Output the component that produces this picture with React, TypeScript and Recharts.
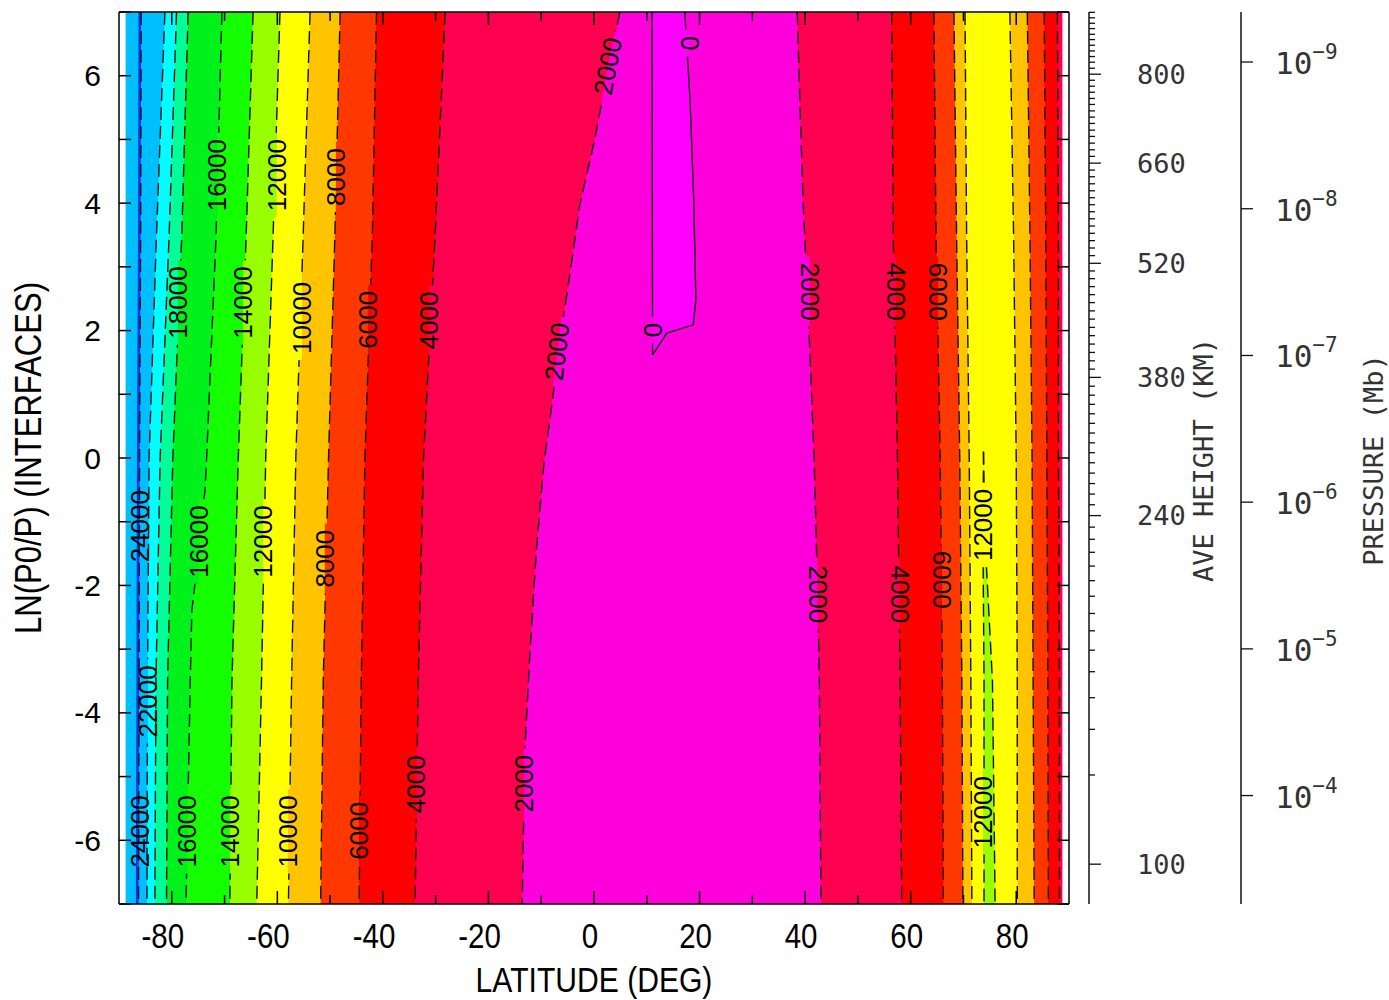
import React from 'react'
import { ComposedChart, Area, Line, XAxis, YAxis, ReferenceDot } from 'recharts'

// ─── Data: contour band boundaries (latitude, deg) at ln(P0/P) levels ──────

const Z5 = [7, 3.5, 0, -3.5, -7]
const Z_EDGE = [7, -7]

const EDGE_W = [-88.75, -88.75]
const EDGE_E = [88.75, 88.75]

// southern (left) side, values increase toward the pole
const RIDGE_W = [-86.3, -86.4, -86.6, -86.7, -86.8]
const RIDGE_E = [-85.8, -85.9, -86.1, -86.2, -86.3]
const C22 = [-81.3, -82.9, -84.3, -84.6, -84.7]
const C20 = [-79.1, -80.5, -82.2, -83.0, -83.2]
const C18 = [-76.9, -78.1, -79.8, -80.8, -81.0]
const C16_Z = [7, 3.5, 0, -0.5, -1.9, -2.4, -3.5, -7]
const C16 = [-70.5, -71.6, -73.4, -73.7, -75.5, -76.2, -76.5, -77.3]
const C14 = [-64.6, -65.9, -67.4, -68.6, -69.0]
const C12 = [-59.5, -60.8, -62.2, -63.0, -63.9]
const C10 = [-53.8, -55.1, -56.5, -57.3, -57.9]
const C8 = [-48.1, -49.1, -50.3, -51.3, -51.8]
const C6 = [-41.2, -42.0, -43.4, -44.1, -44.5]
const C4 = [-28.2, -30.1, -32.3, -33.3, -33.9]
const C2W_Z = [7, 5.69, 5.02, 3.97, 2.92, 1.88, 0.83, -0.1, -1.43, -3.0, -4.57, -7]
const C2W = [4.9, 1.7, 0.2, -2.7, -4.5, -6.4, -8.0, -9.5, -10.9, -12.1, -13.1, -13.6]

// closed zero contour near 15N
const C0W_Z = [7, 1.62]
const C0W = [11.0, 11.1]
const C0E_Z = [7, 5.62, 4.05, 2.48, 2.09, 1.96, 1.62]
const C0E = [17.2, 18.2, 18.9, 19.3, 18.8, 13.8, 11.1]
const C0_TAIL_Z = [-7]
const C0_TAIL = [11.1]

// northern (right) side
const C2E_Z = [7, 5.62, 4.05, 2.48, 0, -2.2, -3.5, -7]
const C2E = [38.5, 39.0, 39.6, 40.5, 41.7, 42.4, 42.7, 43.0]
const C4E = [56.4, 56.7, 57.5, 58.0, 58.3]
const C6E = [64.4, 64.8, 65.6, 66.0, 66.2]
const C8E = [68.2, 68.7, 69.3, 69.7, 69.9]
const C10E = [70.3, 70.6, 71.1, 71.4, 71.6]
const C12E_Z = [7, 0.1, -1.3, -3.5, -7]
const C12E_W = [73.8, 73.8, 73.7, 73.9, 73.9]
const C12E_E = [73.8, 73.8, 74.1, 75.5, 76.0]
const C10N = [78.8, 79.5, 80.0, 80.2, 80.2]
const C8N = [82.1, 82.6, 83.0, 83.2, 83.4]
const C6N = [85.3, 85.6, 85.8, 86.0, 86.1]
const C4N = [87.8, 88.0, 88.0, 88.2, 88.2]

// contour labels: text, latitude, ln(P0/P)
const LABELS: [string, number, number][] = [
  ['24000', -86.0, -1.07],
  ['22000', -84.5, -3.82],
  ['24000', -86.0, -5.86],
  ['16000', -77.1, -5.86],
  ['14000', -69.0, -5.86],
  ['10000', -58.0, -5.86],
  ['6000', -44.5, -5.85],
  ['4000', -33.7, -5.12],
  ['2000', -13.3, -5.11],
  ['16000', -74.8, -1.31],
  ['12000', -62.7, -1.31],
  ['8000', -51.0, -1.58],
  ['18000', -78.8, 2.44],
  ['14000', -66.5, 2.44],
  ['10000', -55.3, 2.2],
  ['16000', -71.4, 4.44],
  ['12000', -60.1, 4.44],
  ['8000', -48.9, 4.41],
  ['6000', -42.8, 2.17],
  ['4000', -31.3, 2.16],
  ['2000', -7.0, 1.67],
  ['2000', 2.65, 6.15],
  ['0', 18.2, 6.51],
  ['0', 11.2, 2.01],
  ['2000', 40.9, 2.61],
  ['4000', 57.2, 2.61],
  ['6000', 65.2, 2.61],
  ['2000', 42.4, -2.14],
  ['4000', 58.0, -2.14],
  ['6000', 65.9, -1.91],
  ['12000', 73.7, -1.05],
  ['12000', 73.7, -5.56],
]
const LABEL_ANGLE = [
  -90, -90, -90, -90, -90, -90, -90, -90, -90, -90, -90, -90, -90, -90, -90, -90,
  -90, -90, -90, -90, -83, -79, 90, -90, 90, 90, 90, 90, 90, 90, -90, -90,
]
// bands west / east of each labelled contour (the label breaks the line)
const LABEL_BANDS: ([string, string] | null)[] = [
  null, ['c22', 'c20'], null, ['c16', 'c14'], ['c14', 'c12'], ['c10', 'c8'], ['c6', 'c4'], ['c4', 'c2'],
  ['c2', 'c0'], ['c16', 'c14'], ['c12', 'c10'], ['c8', 'c6'], ['c18', 'c16'], ['c14', 'c12'], ['c10', 'c8'],
  ['c16', 'c14'], ['c12', 'c10'], ['c8', 'c6'], ['c6', 'c4'], ['c4', 'c2'], ['c2', 'c0'], ['c2', 'c0'],
  ['neg', 'c0'], ['c0', 'neg'], ['c0', 'c2'], ['c2', 'c4'], ['c4', 'c6'], ['c0', 'c2'], ['c2', 'c4'],
  ['c4', 'c6'], ['c10', 'c10'], ['c10', 'c12'],
]

// ─── Axes ticks ─────────────────────────────────────────────────────────────

const Z_TICKS = [-7, -6, -5, -4, -3, -2, -1, 0, 1, 2, 3, 4, 5, 6, 7]
const LAT_TICKS = [-80, -70, -60, -50, -40, -30, -20, -10, 0, 10, 20, 30, 40, 50, 60, 70, 80]

// average height ticks, every 10 km from 910 down to 100
const HEIGHT_TICK_Z = [
  6.995, 6.909, 6.823, 6.74, 6.65, 6.567, 6.478, 6.389, 6.301, 6.212, 6.118, 6.024,
  5.929, 5.835, 5.741, 5.643, 5.549, 5.448, 5.35, 5.251, 5.146, 5.047, 4.942, 4.837,
  4.734, 4.628, 4.519, 4.414, 4.304, 4.194, 4.085, 3.975, 3.865, 3.755, 3.641, 3.527,
  3.411, 3.296, 3.176, 3.056, 2.936, 2.815, 2.69, 2.564, 2.439, 2.309, 2.18, 2.05,
  1.92, 1.788, 1.657, 1.525, 1.395, 1.265, 1.127, 0.986, 0.842, 0.694, 0.544, 0.392,
  0.238, 0.083, -0.075, -0.237, -0.401, -0.566, -0.734, -0.904, -1.085, -1.276, -1.48,
  -1.696, -1.925, -2.169, -2.44, -2.712, -3.016, -3.354, -3.762, -4.259, -4.975, -6.375,
]
const HEIGHT_LABELS: [number, number][] = [
  [800, 6.024],
  [660, 4.628],
  [520, 3.056],
  [380, 1.265],
  [240, -0.904],
  [100, -6.375],
]
const PRESSURE_TICKS: [number, number][] = [
  [-9, 6.215],
  [-8, 3.912],
  [-7, 1.609],
  [-6, -0.693],
  [-5, -2.996],
  [-4, -5.298],
]

// ─── Colours ────────────────────────────────────────────────────────────────

const COLORS: Record<string, string> = {
  none: '#ffffff',
  neg: '#ff00ff',
  c0: '#ff00dc',
  c2: '#ff0050',
  c4: '#ff0000',
  c6: '#ff3800',
  c8: '#ffc400',
  c10: '#ffff00',
  c12: '#99ff00',
  c14: '#14ff00',
  c16: '#00f21a',
  c18: '#00ff99',
  c20: '#00ffff',
  c22: '#00bfff',
  c24: '#0a32ff',
}

const rows = (zs: number[], xs: number[]) => zs.map((z, i) => ({ z, x: xs[i] }))

// painted right to left: each area covers from the west edge to its boundary
const LAYERS: [number[], number[], string][] = [
  [Z_EDGE, EDGE_E, 'c2'],
  [Z5, C4N, 'c4'],
  [Z5, C6N, 'c6'],
  [Z5, C8N, 'c8'],
  [Z5, C10N, 'c10'],
  [C12E_Z, C12E_E, 'c12'],
  [C12E_Z, C12E_W, 'c10'],
  [Z5, C10E, 'c8'],
  [Z5, C8E, 'c6'],
  [Z5, C6E, 'c4'],
  [Z5, C4E, 'c2'],
  [C2E_Z, C2E, 'c0'],
  [[...C0E_Z, ...C0_TAIL_Z], [...C0E, ...C0_TAIL], 'neg'],
  [[...C0W_Z, ...C0_TAIL_Z], [...C0W, ...C0_TAIL], 'c0'],
  [C2W_Z, C2W, 'c2'],
  [Z5, C4, 'c4'],
  [Z5, C6, 'c6'],
  [Z5, C8, 'c8'],
  [Z5, C10, 'c10'],
  [Z5, C12, 'c12'],
  [Z5, C14, 'c14'],
  [C16_Z, C16, 'c16'],
  [Z5, C18, 'c18'],
  [Z5, C20, 'c20'],
  [Z5, C22, 'c22'],
  [Z5, RIDGE_E, 'c24'],
  [Z5, RIDGE_W, 'c22'],
  [Z_EDGE, EDGE_W, 'none'],
]

const CONTOURS: [number[], number[], boolean][] = [
  [Z5, RIDGE_E, false],
  [Z5, C22, false],
  [Z5, C20, false],
  [Z5, C18, false],
  [C16_Z, C16, false],
  [Z5, C14, false],
  [Z5, C12, false],
  [Z5, C10, false],
  [Z5, C8, false],
  [Z5, C6, false],
  [Z5, C4, false],
  [C2W_Z, C2W, false],
  [C0W_Z, C0W, true],
  [C0E_Z, C0E, true],
  [C2E_Z, C2E, false],
  [Z5, C4E, false],
  [Z5, C6E, false],
  [Z5, C8E, false],
  [Z5, C10E, false],
  [C12E_Z.slice(1), C12E_W.slice(1), false],
  [C12E_Z.slice(1), C12E_E.slice(1), false],
  [Z5, C10N, false],
  [Z5, C8N, false],
  [Z5, C6N, false],
  [Z5, C4N, false],
]

const SANS = 'Liberation Sans, Arial, sans-serif'
const MONO = 'DejaVu Sans Mono, monospace'

// ─── Tick renderers (all ticks point into the frame) ───────────────────────

function LeftTick({ x, y, payload }: any) {
  const v = payload.value
  return (
    <g>
      <line x1={x} x2={x + 12} y1={y} y2={y} stroke="#000" strokeWidth={1.5} />
      {v % 2 === 0 && Math.abs(v) < 7 && (
        <text x={x - 18} y={y} textAnchor="end" dominantBaseline="central" fontFamily={SANS} fontSize={30} fill="#000">
          {v}
        </text>
      )}
    </g>
  )
}

function RightFrameTick({ x, y }: any) {
  return <line x1={x} x2={x - 12} y1={y} y2={y} stroke="#000" strokeWidth={1.5} />
}

function BottomTick({ x, y, payload }: any) {
  const v = payload.value
  const major = v % 20 === 0
  const digits = String(Math.abs(v)).length
  return (
    <g>
      <line x1={x} x2={x} y1={y} y2={y - (major ? 13 : 9)} stroke="#000" strokeWidth={1.5} />
      {major && (
        <g transform={`translate(${x - 4 + digits * 8.2}, ${y + 44}) scale(0.82, 1)`}>
          <text textAnchor="end" fontFamily={SANS} fontSize={36} fill="#000">
            {v}
          </text>
        </g>
      )}
    </g>
  )
}

function TopTick({ x, y, payload }: any) {
  const major = payload.value % 20 === 0
  return <line x1={x} x2={x} y1={y} y2={y + (major ? 13 : 9)} stroke="#000" strokeWidth={1.5} />
}

function HeightTick({ x, y, payload }: any) {
  const lab = HEIGHT_LABELS.find(h => h[1] === payload.value)
  return (
    <g>
      <line x1={x} x2={x + (lab ? 12 : 6)} y1={y} y2={y} stroke="#111" strokeWidth={1.3} />
      {lab && (
        <text x={x + 48} y={y} dominantBaseline="central" fontFamily={MONO} fontSize={27} fill="#333">
          {lab[0]}
        </text>
      )}
    </g>
  )
}

function PressureTick({ x, y, payload }: any) {
  const t = PRESSURE_TICKS.find(p => p[1] === payload.value)
  return (
    <g>
      <line x1={x} x2={x + 12} y1={y} y2={y} stroke="#111" strokeWidth={1.3} />
      {t && (
        <text x={x + 34} y={y + 1} dominantBaseline="central" fontFamily={MONO} fontSize={31} fill="#333">
          10
          <tspan dy={-11} fontSize={21}>{`\u2212${Math.abs(t[0])}`}</tspan>
        </text>
      )}
    </g>
  )
}

// ─── Axis titles ─────────────────────────────────────────────────────────────

function XTitle({ viewBox }: any) {
  const cx = viewBox.x + viewBox.width / 2
  return (
    <g transform={`translate(${cx}, ${viewBox.y + 88}) scale(0.86, 1)`}>
      <text textAnchor="middle" fontFamily={SANS} fontSize={35} fill="#000">
        LATITUDE (DEG)
      </text>
    </g>
  )
}

function YTitle({ viewBox }: any) {
  const cy = viewBox.y + viewBox.height / 2
  return (
    <g transform={`translate(${viewBox.x + 28}, ${cy}) rotate(-90) scale(0.84, 1)`}>
      <text textAnchor="middle" dominantBaseline="central" fontFamily={SANS} fontSize={37} fill="#000">
        LN(P0/P) (INTERFACES)
      </text>
    </g>
  )
}

function SideTitle({ viewBox, text, dx }: any) {
  const cx = viewBox.x + dx
  const cy = viewBox.y + viewBox.height / 2 + 2
  return (
    <text
      x={cx}
      y={cy}
      transform={`rotate(-90 ${cx} ${cy})`}
      textAnchor="middle"
      dominantBaseline="central"
      fontFamily={MONO}
      fontSize={27}
      fill="#333"
    >
      {text}
    </text>
  )
}

// label on a contour; the two half-strips repaint the bands so the line breaks
function ContourText({ cx, cy, text, angle, bands }: any) {
  const len = text.length * 14.5 + 12
  const flip = angle > 0
  return (
    <g transform={`rotate(${angle} ${cx} ${cy})`}>
      {bands && (
        <>
          <rect x={cx - len / 2} y={cy - 6} width={len} height={6} fill={COLORS[flip ? bands[1] : bands[0]]} />
          <rect x={cx - len / 2} y={cy} width={len} height={6} fill={COLORS[flip ? bands[0] : bands[1]]} />
        </>
      )}
      <text x={cx} y={cy} textAnchor="middle" dominantBaseline="central" fontFamily={SANS} fontSize={26} fill="#000">
        {text}
      </text>
    </g>
  )
}

// invisible series so that the extra axes get a domain
const anchor = rows(Z_EDGE, [0, 0])

export default function App() {
  return (
    <div style={{ width: 1389, height: 1000 }}>
      <style>{'body{margin:0}'}</style>
      <ComposedChart width={1389} height={1000} layout="vertical" margin={{ top: 0, right: 0, bottom: 0, left: 0 }}>
        {LAYERS.map(([zs, xs, band], i) => (
          <Area
            key={`a${i}`}
            data={rows(zs, xs)}
            dataKey="x"
            type="linear"
            baseValue="dataMin"
            fill={COLORS[band]}
            fillOpacity={1}
            stroke="none"
            dot={false}
            activeDot={false}
            isAnimationActive={false}
          />
        ))}
        {CONTOURS.map(([zs, xs, solid], i) => (
          <Line
            key={`l${i}`}
            data={rows(zs, xs)}
            dataKey="x"
            type="linear"
            stroke="#111"
            strokeWidth={1.4}
            strokeDasharray={solid ? undefined : '13 6'}
            dot={false}
            activeDot={false}
            isAnimationActive={false}
          />
        ))}
        {['r1', 'r2', 'r3'].map(id => (
          <Line
            key={id}
            data={anchor}
            dataKey="x"
            xAxisId={id === 'r1' ? 'top' : 0}
            yAxisId={id}
            stroke="none"
            dot={false}
            activeDot={false}
            isAnimationActive={false}
          />
        ))}
        {LABELS.map(([text, lat, z], i) => (
          <ReferenceDot
            key={`t${i}`}
            x={lat}
            y={z}
            r={0}
            ifOverflow="visible"
            shape={(p: any) => (
              <ContourText cx={p.cx} cy={p.cy} text={text} angle={LABEL_ANGLE[i]} bands={LABEL_BANDS[i]} />
            )}
          />
        ))}
        <XAxis
          type="number"
          orientation="bottom"
          domain={[-90, 90]}
          allowDataOverflow
          ticks={LAT_TICKS}
          interval={0}
          height={96}
          tickSize={0}
          tickMargin={0}
          tickLine={false}
          tick={(p: any) => <BottomTick {...p} />}
          axisLine={{ stroke: '#000', strokeWidth: 1.5 }}
          label={<XTitle />}
        />
        <XAxis
          xAxisId="top"
          type="number"
          orientation="top"
          domain={[-90, 90]}
          allowDataOverflow
          ticks={LAT_TICKS}
          interval={0}
          height={12}
          tickSize={0}
          tickMargin={0}
          tickLine={false}
          tick={(p: any) => <TopTick {...p} />}
          axisLine={{ stroke: '#000', strokeWidth: 1.5 }}
        />
        <YAxis
          dataKey="z"
          type="number"
          reversed
          domain={[-7, 7]}
          allowDataOverflow
          ticks={Z_TICKS}
          interval={0}
          width={119}
          tickSize={0}
          tickMargin={0}
          tickLine={false}
          tick={(p: any) => <LeftTick {...p} />}
          axisLine={{ stroke: '#000', strokeWidth: 1.5 }}
          label={<YTitle />}
        />
        <YAxis
          yAxisId="r1"
          dataKey="z"
          orientation="right"
          type="number"
          reversed
          domain={[-7, 7]}
          allowDataOverflow
          ticks={Z_TICKS}
          interval={0}
          width={20}
          tickSize={0}
          tickMargin={0}
          tickLine={false}
          tick={(p: any) => <RightFrameTick {...p} />}
          axisLine={{ stroke: '#000', strokeWidth: 1.5 }}
        />
        <YAxis
          yAxisId="r2"
          dataKey="z"
          orientation="right"
          type="number"
          reversed
          domain={[-7, 7]}
          allowDataOverflow
          ticks={HEIGHT_TICK_Z}
          interval={0}
          width={152}
          tickSize={0}
          tickMargin={0}
          tickLine={false}
          tick={(p: any) => <HeightTick {...p} />}
          axisLine={{ stroke: '#111', strokeWidth: 1.5 }}
          label={<SideTitle text="AVE HEIGHT (KM)" dx={114} />}
        />
        <YAxis
          yAxisId="r3"
          dataKey="z"
          orientation="right"
          type="number"
          reversed
          domain={[-7, 7]}
          allowDataOverflow
          ticks={PRESSURE_TICKS.map(p => p[1])}
          interval={0}
          width={148}
          tickSize={0}
          tickMargin={0}
          tickLine={false}
          tick={(p: any) => <PressureTick {...p} />}
          axisLine={{ stroke: '#111', strokeWidth: 1.5 }}
          label={<SideTitle text="PRESSURE (Mb)" dx={132} />}
        />
      </ComposedChart>
    </div>
  )
}
